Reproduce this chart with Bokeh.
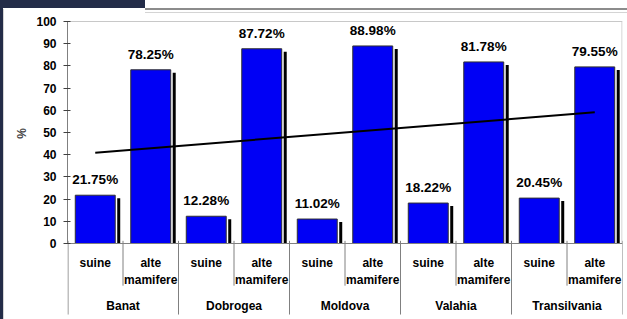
import numpy as np
from bokeh.plotting import figure
from bokeh.models import Range1d, ColumnDataSource, LabelSet, FixedTicker
from bokeh.core.properties import value
from bokeh.embed import file_html
from bokeh.resources import INLINE

# ---- data ----
groups = ["Banat", "Dobrogea", "Moldova", "Valahia", "Transilvania"]
sub_labels = ["suine", "alte", "mamifere"]
suine = [21.75, 12.28, 11.02, 18.22, 20.45]
alte_mamifere = [78.25, 87.72, 88.98, 81.78, 79.55]
y_ticks = [0, 10, 20, 30, 40, 50, 60, 70, 80, 90, 100]

values = []
for s, a in zip(suine, alte_mamifere):
    values += [s, a]
values = np.array(values)
n = len(values)
xc = np.arange(n) + 0.5

W, H = 627, 319
LB, RB = 67, 5
px_x = (W - LB - RB) / n
px_y = 2.22                     # pixels per % unit
base_px = 243                   # baseline position from figure top
y_top = base_px / px_y
y_bot = -(H - base_px) / px_y

p = figure(width=W, height=H, output_backend="svg", toolbar_location=None,
           x_range=Range1d(0, n), y_range=Range1d(y_bot, y_top),
           x_axis_location=None,
           min_border_left=LB, min_border_right=RB, min_border_top=0, min_border_bottom=0)
p.title.visible = False
p.xgrid.visible = False
p.ygrid.visible = False
p.outline_line_color = None
p.background_fill_color = None
p.border_fill_color = None
p.styles = {
    "background": (
        "linear-gradient(#232c48,#232c48) 0px 0px / 145px 8px no-repeat, "
        "linear-gradient(#232c48,#232c48) 0px 0px / 3px 100% no-repeat, "
        "linear-gradient(#8c8c8c,#8c8c8c) 145px 8px / 482px 2px no-repeat, "
        "linear-gradient(#d4d4d4,#d4d4d4) 145px 12px / 482px 1px no-repeat, "
        "linear-gradient(#d4d4d4,#d4d4d4) 3px 9px / 1px 310px no-repeat, "
        "white"
    )
}

FONT = "Liberation Sans"

# y axis
ax = p.yaxis[0]
ax.ticker = FixedTicker(ticks=y_ticks)
ax.bounds = (0, 100)
ax.axis_line_color = "#808080"
ax.major_tick_line_color = "#404040"
ax.major_tick_out = 4
ax.major_tick_in = 3
ax.minor_tick_line_color = None
ax.major_label_text_font = FONT
ax.major_label_text_font_style = "bold"
ax.major_label_text_font_size = "12px"
ax.major_label_text_color = "black"
ax.major_label_standoff = 7
ax.axis_label = "\u00a0" * 16 + "%"
ax.axis_label_text_font = FONT
ax.axis_label_text_font_style = "bold"
ax.axis_label_text_font_size = "12px"
ax.axis_label_standoff = 4

# plot-area border (top and right)
p.line(x=[0, n], y=[100, 100], line_color="#c8c8c8", line_width=1)
p.line(x=[n - 0.5 / px_x] * 2, y=[0, 100], line_color="#c8c8c8", line_width=1)

# bars
bw = 0.72
shadow_x = xc + bw / 2 + 3.5 / px_x
p.vbar(x=shadow_x, top=values - 3 / px_y, width=3 / px_x, bottom=0,
       fill_color="black", line_color=None)
p.vbar(x=xc, top=values, width=bw, bottom=0, fill_color="#0000f5",
       line_color="#303030", line_width=1)

# baseline
p.line(x=[0, n], y=[0, 0], line_color="#808080", line_width=1)

# separators below the axis
sub_b = [2 * i + 1 for i in range(len(groups))]
grp_b = [2 * i for i in range(len(groups) + 1)]
p.segment(x0=sub_b, x1=sub_b, y0=[1.2] * len(sub_b), y1=[-19] * len(sub_b),
          line_color="#808080", line_width=1)
grp_x = [b + (0.5 / px_x if b == 0 else 0) for b in grp_b]
p.segment(x0=grp_x, x1=grp_x, y0=[1.2] * len(grp_b), y1=[-32] * len(grp_b),
          line_color="#808080", line_width=1)

# trend line (linear fit of the 10 values)
coef = np.polyfit(np.arange(1, n + 1), values, 1)
trend = np.polyval(coef, np.arange(1, n + 1))
p.line(x=[xc[0], xc[-1]], y=[trend[0], trend[-1]], line_color="black", line_width=2)

# value labels
vsrc = ColumnDataSource(dict(x=xc, y=values, t=[f"{v:.2f}%" for v in values]))
p.add_layout(LabelSet(source=vsrc, x="x", y="y", text="t", text_align="center",
                      text_baseline="bottom", y_offset=8, text_font=value(FONT),
                      text_font_style="bold", text_font_size="13.5px", text_color="black"))

# category labels
sx, sy, st = [], [], []
for i in range(len(groups)):
    sx += [2 * i + 0.5, 2 * i + 1.5, 2 * i + 1.5]
    sy += [-8.8, -8.8, -16.4]
    st += sub_labels
ssrc = ColumnDataSource(dict(x=sx, y=sy, t=st))
p.add_layout(LabelSet(source=ssrc, x="x", y="y", text="t", text_align="center",
                      text_baseline="middle", text_font=value(FONT), text_font_style="bold",
                      text_font_size="12px", text_color="black"))
gsrc = ColumnDataSource(dict(x=[2 * i + 1 for i in range(len(groups))],
                             y=[-28.2] * len(groups), t=groups))
p.add_layout(LabelSet(source=gsrc, x="x", y="y", text="t", text_align="center",
                      text_baseline="middle", text_font=value(FONT), text_font_style="bold",
                      text_font_size="12px", text_color="black"))

open("out.html", "w").write(file_html(p, INLINE))
